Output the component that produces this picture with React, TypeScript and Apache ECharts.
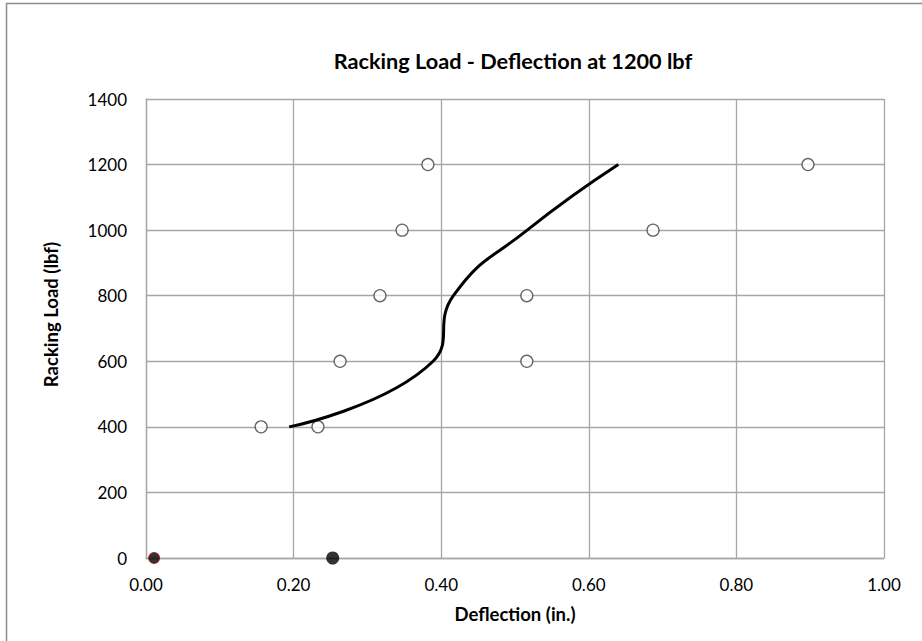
import React, { useEffect, useRef } from "react";
import * as echarts from "echarts";

const loads = [400, 600, 800, 1000, 1200];
const specimenA = [0.156, 0.263, 0.317, 0.347, 0.382];
const specimenB = [0.233, 0.516, 0.516, 0.687, 0.897];
const averageDeflection = [0.194, 0.389, 0.4165, 0.5165, 0.64];
const redPoint = [[0.011, 0]];
const blackPoint = [[0.253, 0]];
const xTicks = [0, 0.2, 0.4, 0.6, 0.8, 1.0];
const yTicks = [0, 200, 400, 600, 800, 1000, 1200, 1400];

const FONT = "Lato, 'Open Sans', sans-serif";

export default function App() {
  const ref = useRef<HTMLDivElement>(null);
  useEffect(() => {
    if (!ref.current) return;
    const chart = echarts.init(ref.current, null, { renderer: "svg" });
    const hollow = [
      ...loads.map((l, i) => [specimenA[i], l]),
      ...loads.map((l, i) => [specimenB[i], l]),
    ];
    chart.setOption({
      animation: false,
      backgroundColor: "#ffffff",
      textStyle: { fontFamily: FONT },
      title: {
        text: "Racking Load - Deflection at 1200 lbf",
        left: 508,
        top: 45,
        textAlign: "center",
        textStyle: { fontFamily: FONT, fontSize: 21.7, fontWeight: "bold", color: "#000" },
      },
      graphic: [
        {
          type: "rect",
          shape: { x: 6.5, y: 3.5, width: 2000, height: 2000 },
          style: { fill: "none", stroke: "#8c8c8c", lineWidth: 1.5 },
          silent: true,
        },
      ],
      grid: { left: 146, top: 99, right: 38, bottom: 83 },
      xAxis: {
        type: "value",
        min: xTicks[0],
        max: xTicks[xTicks.length - 1],
        interval: 0.2,
        name: "Deflection (in.)",
        nameLocation: "middle",
        nameGap: 46,
        nameTextStyle: { fontFamily: FONT, fontSize: 18.5, fontWeight: "bold", color: "#000" },
        axisLine: { show: true, lineStyle: { color: "#a6a6a6", width: 1.3 } },
        axisTick: { show: false },
        axisLabel: {
          fontFamily: FONT,
          fontSize: 17,
          color: "#000",
          margin: 18,
          formatter: (v: number) => v.toFixed(2),
        },
        splitLine: { show: true, lineStyle: { color: "#a6a6a6", width: 1.3 } },
      },
      yAxis: {
        type: "value",
        min: yTicks[0],
        max: yTicks[yTicks.length - 1],
        interval: 200,
        name: "Racking Load (lbf)",
        nameLocation: "middle",
        nameGap: 86,
        nameRotate: 90,
        nameTextStyle: {
          fontFamily: FONT,
          fontSize: 18.5,
          fontWeight: "bold",
          color: "#000",
          padding: [0, 0, 0, 28],
        },
        axisLine: { show: true, lineStyle: { color: "#a6a6a6", width: 1.3 } },
        axisTick: { show: false },
        axisLabel: {
          fontFamily: FONT,
          fontSize: 17,
          color: "#000",
          margin: 19,
          formatter: (v: number) => String(v),
        },
        splitLine: { show: true, lineStyle: { color: "#a6a6a6", width: 1.3 } },
      },
      series: [
        {
          type: "scatter",
          data: hollow,
          symbol: "circle",
          symbolSize: 12,
          itemStyle: { color: "#ffffff", borderColor: "#404040", borderWidth: 1.3 },
          z: 2,
        },
        {
          type: "line",
          data: loads.map((l, i) => [averageDeflection[i], l]),
          smooth: 0.5,
          showSymbol: false,
          symbol: "none",
          lineStyle: { color: "#000", width: 3 },
          z: 3,
        },
        {
          type: "scatter",
          data: blackPoint,
          symbol: "circle",
          symbolSize: 13,
          itemStyle: { color: "#000" },
          z: 4,
        },
        {
          type: "scatter",
          data: redPoint,
          symbol: "circle",
          symbolSize: 11,
          itemStyle: { color: "#000", borderColor: "#c00000", borderWidth: 1 },
          z: 4,
        },
      ],
    });
    return () => chart.dispose();
  }, []);
  return (
    <div
      ref={ref}
      style={{ position: "absolute", left: 0, top: 0, width: 922, height: 641 }}
    />
  );
}
